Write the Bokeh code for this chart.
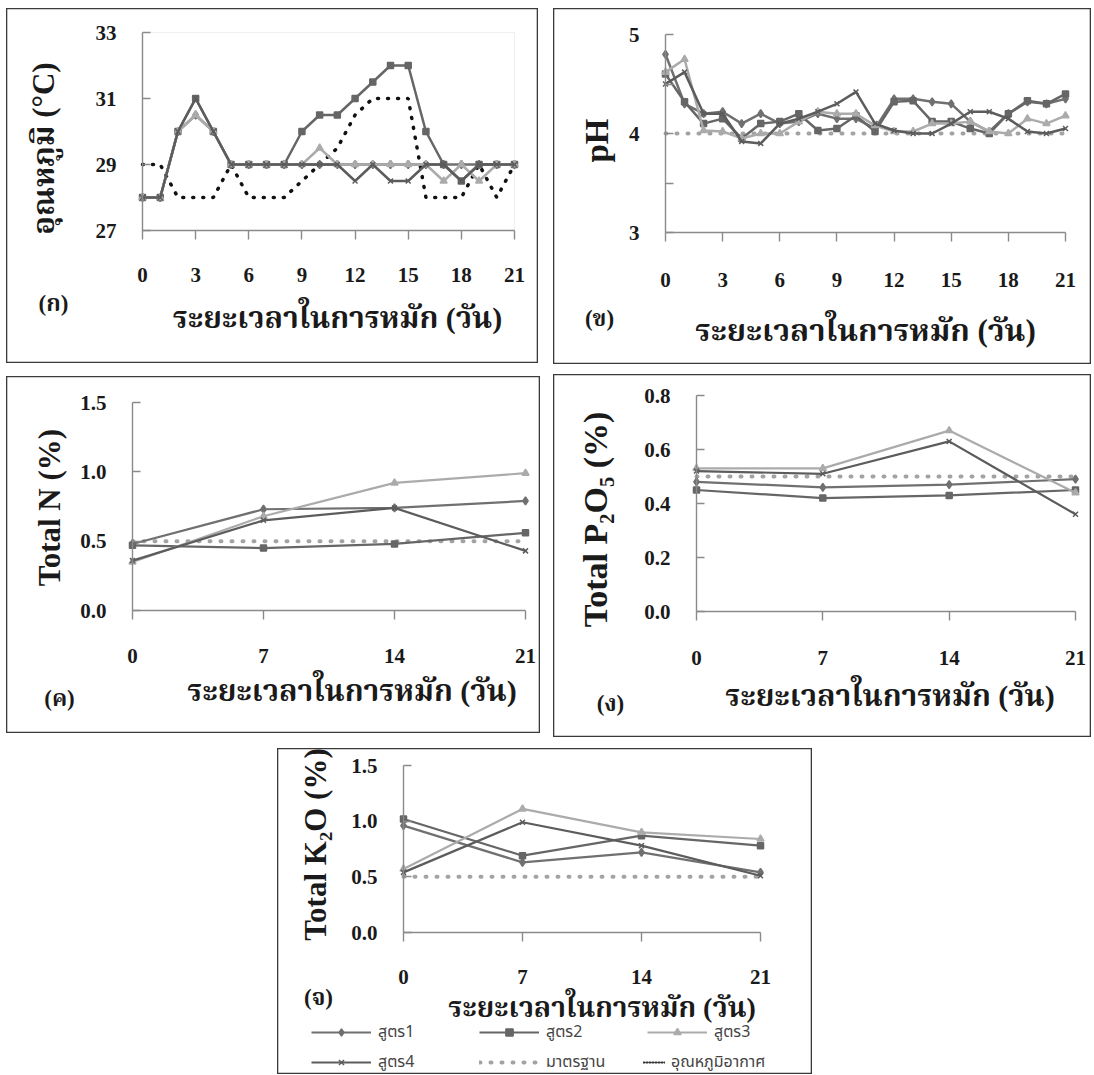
import math
from bokeh.plotting import figure
from bokeh.models import (Range1d, FixedTicker, Label, Legend, LegendItem, Spacer,
                          LinearAxis, BoxAnnotation)
from bokeh.layouts import row, column
from bokeh.embed import file_html
from bokeh.resources import INLINE

# ---------------- data ----------------
days_daily = list(range(0, 22))
days_weekly = [0, 7, 14, 21]

temp_s1 = [28, 28, 30, 30.5, 30, 29, 29, 29, 29, 29, 29, 29, 29, 29, 29, 29, 29, 29, 29, 29, 29, 29]
temp_s2 = [28, 28, 30, 31, 30, 29, 29, 29, 29, 30, 30.5, 30.5, 31, 31.5, 32, 32, 30, 29, 28.5, 29, 29, 29]
temp_s3 = [28, 28, 30, 30.5, 30, 29, 29, 29, 29, 29, 29.5, 29, 29, 29, 29, 29, 29, 28.5, 29, 28.5, 29, 29]
temp_s4 = [28, 28, 30, 31, 30, 29, 29, 29, 29, 29, 29, 29, 28.5, 29, 28.5, 28.5, 29, 29, 28.5, 29, 29, 29]
temp_air = [29, 29, 28, 28, 28, 29, 28, 28, 28, 28.5, 29, 29.5, 30.5, 31, 31, 31, 28, 28, 28, 29, 28, 29]

ph_s1 = [4.80, 4.30, 4.20, 4.22, 4.10, 4.20, 4.10, 4.12, 4.20, 4.15, 4.15, 4.05, 4.35, 4.35, 4.32, 4.30, 4.12, 4.02, 4.20, 4.32, 4.30, 4.35]
ph_s2 = [4.60, 4.32, 4.10, 4.15, 3.95, 4.10, 4.12, 4.20, 4.03, 4.05, 4.18, 4.02, 4.32, 4.33, 4.12, 4.12, 4.05, 4.00, 4.20, 4.33, 4.30, 4.40]
ph_s3 = [4.62, 4.75, 4.03, 4.02, 3.95, 4.00, 4.00, 4.12, 4.22, 4.20, 4.20, 4.08, 4.02, 4.02, 4.10, 4.10, 4.12, 4.02, 4.00, 4.15, 4.10, 4.18]
ph_s4 = [4.50, 4.62, 4.20, 4.20, 3.92, 3.90, 4.10, 4.15, 4.22, 4.30, 4.42, 4.10, 4.03, 4.00, 4.00, 4.10, 4.22, 4.22, 4.15, 4.02, 4.00, 4.05]
ph_std = 4.0

n_s1 = [0.48, 0.73, 0.74, 0.79]
n_s2 = [0.47, 0.45, 0.48, 0.56]
n_s3 = [0.35, 0.68, 0.92, 0.99]
n_s4 = [0.36, 0.65, 0.74, 0.43]
n_std = 0.5

p_s1 = [0.48, 0.46, 0.47, 0.49]
p_s2 = [0.45, 0.42, 0.43, 0.45]
p_s3 = [0.53, 0.53, 0.67, 0.44]
p_s4 = [0.52, 0.51, 0.63, 0.36]
p_std = 0.5

k_s1 = [0.96, 0.63, 0.72, 0.54]
k_s2 = [1.02, 0.69, 0.87, 0.78]
k_s3 = [0.57, 1.11, 0.90, 0.84]
k_s4 = [0.54, 0.99, 0.78, 0.51]
k_std = 0.5

series_names = ["สูตร1", "สูตร2", "สูตร3", "สูตร4"]
std_name = "มาตรฐาน"
air_name = "อุณหภูมิอากาศ"
x_title = "ระยะเวลาในการหมัก (วัน)"

# ---------------- styles ----------------
SERIF = "'Liberation Serif', 'Noto Serif Thai', 'Norasi', 'Kinnari', 'Noto Sans Thai Looped', 'Loma', serif"
LEGF = "'Noto Sans', 'Noto Sans Thai', 'Loma', 'Garuda', sans-serif"
STY = [
    dict(color="#707070", marker="diamond", size=8),
    dict(color="#666666", marker="square", size=6),
    dict(color="#ababab", marker="triangle", size=7),
    dict(color="#5c5c5c", marker="x", size=7),
]
AXC = "#8a8a8a"
TXT = "#1a1a1a"


def make_panel(w, h, fx, fy, xd, yd, xticks, yticks, ylabels, tick_standoff,
               tag, tag_off, xlab_off, xlab_size, ylab, ylab_off, ylab_size, plot_box=False):
    # frame == whole canvas; data box [xd]x[yd] placed at pixel box fx (left,right), fy (top,bottom)
    sx = (fx[1] - fx[0]) / (xd[1] - xd[0])
    sy = (fy[1] - fy[0]) / (yd[1] - yd[0])
    xr = Range1d(xd[0] - fx[0] / sx, xd[1] + (w - fx[1]) / sx)
    yr = Range1d(yd[0] - (h - fy[1]) / sy, yd[1] + fy[0] / sy)
    p = figure(width=w, height=h, x_range=xr, y_range=yr, min_border=0,
               output_backend="svg", toolbar_location=None, x_axis_type=None, y_axis_type=None)
    p.grid.visible = False
    p.outline_line_color = "#3a3a3a"
    p.outline_line_width = 1.6
    p.background_fill_color = "white"
    p.border_fill_color = "white"

    if plot_box:
        p.add_layout(BoxAnnotation(left=xd[0], right=xd[1], bottom=yd[0], top=yd[1],
                                   fill_alpha=0, line_color="#cdcdcd", line_width=1.2,
                                   level="underlay"))

    xa = LinearAxis(fixed_location=yd[0], bounds=xd, ticker=FixedTicker(ticks=xticks))
    xa.major_label_overrides = {t: str(t) for t in xticks}
    xa.axis_line_color = AXC
    xa.axis_line_width = 1.4
    xa.major_tick_line_color = AXC
    xa.major_tick_line_width = 1.4
    xa.major_tick_out = 9
    xa.major_tick_in = 0
    xa.minor_tick_line_color = None
    xa.major_label_standoff = tick_standoff
    xa.major_label_text_font = SERIF
    xa.major_label_text_font_style = "bold"
    xa.major_label_text_font_size = "21px"
    xa.major_label_text_color = TXT
    p.add_layout(xa, "below")

    ya = LinearAxis(fixed_location=xd[0], bounds=yd, ticker=FixedTicker(ticks=yticks))
    ya.major_label_overrides = dict(zip(yticks, ylabels))
    ya.axis_line_color = AXC
    ya.axis_line_width = 1.4
    ya.major_tick_line_color = AXC
    ya.major_tick_line_width = 1.4
    ya.major_tick_out = 0
    ya.major_tick_in = 8
    ya.minor_tick_line_color = None
    ya.major_label_standoff = 26
    ya.major_label_text_font = SERIF
    ya.major_label_text_font_style = "bold"
    ya.major_label_text_font_size = "21px"
    ya.major_label_text_color = TXT
    p.add_layout(ya, "left")

    xmid = (xd[0] + xd[1]) / 2
    p.add_layout(Label(x=xd[0], y=yd[0], x_offset=tag_off[0], y_offset=tag_off[1], text=tag,
                       text_font=SERIF, text_font_style="bold", text_font_size="23px",
                       text_align="center", text_baseline="middle", text_color=TXT))
    p.add_layout(Label(x=xmid, y=yd[0], x_offset=xlab_off[0], y_offset=xlab_off[1], text=x_title,
                       text_font=SERIF, text_font_style="bold", text_font_size=xlab_size,
                       text_align="center", text_baseline="middle", text_color=TXT))
    p.add_layout(Label(x=xd[0], y=yd[0], x_offset=ylab_off[0], y_offset=ylab_off[1], text=ylab,
                       angle=math.pi / 2, text_font=SERIF, text_font_style="bold",
                       text_font_size=ylab_size, text_align="center", text_baseline="middle",
                       text_color=TXT))
    return p


def add_series(p, x, ys, lw=2.5):
    rs = []
    for y, st, name in zip(ys, STY, series_names):
        ln = p.line(x, y, line_color=st["color"], line_width=lw)
        mk = p.scatter(x, y, marker=st["marker"], size=st["size"], fill_color=st["color"],
                       line_color=st["color"], line_width=1.5)
        rs.append((name, [ln, mk]))
    return rs


def add_std(p, x, v):
    return p.line(x, [v] * len(x), line_color="#a3a3a3", line_width=4, line_dash="1 10",
                  line_cap="round")


# ---------------- panel ก : temperature ----------------
p1 = make_panel(532, 355, (136, 508), (24, 222), (0, 21), (27, 33),
                list(range(0, 22, 3)), [27, 29, 31, 33], ["27", "29", "31", "33"], 28,
                "(ก)", (-89, -73), (9, -87), "30px", "อุณหภูมิ (°C)", (-99, 82), "31px",
                plot_box=True)
p1.line(days_daily, temp_air, line_color="#111111", line_width=3.5, line_dash="1 9", line_cap="round")
add_series(p1, days_daily, [temp_s1, temp_s2, temp_s3, temp_s4])

# ---------------- panel ข : pH ----------------
p2 = make_panel(538, 356, (112, 512), (26, 224), (0, 21), (3, 5),
                list(range(0, 22, 3)), [3, 3.5, 4, 4.5, 5], ["3", "", "4", "", "5"], 31,
                "(ข)", (-66, -86), (0, -98), "31px", "pH", (-69, 92), "33px")
add_std(p2, days_daily, ph_std)
add_series(p2, days_daily, [ph_s1, ph_s2, ph_s3, ph_s4])

# ---------------- panel ค : Total N ----------------
p3 = make_panel(534, 357, (126, 519), (26, 234), (0, 21), (0, 1.5),
                days_weekly, [0, 0.5, 1.0, 1.5], ["0.0", "0.5", "1.0", "1.5"], 29,
                "(ค)", (-73, -88), (23, -80), "30px", "Total N (%)", (-83, 103), "31px")
add_std(p3, days_weekly, n_std)
add_series(p3, days_weekly, [n_s1, n_s2, n_s3, n_s4], lw=2.2)

# ---------------- panel ง : Total P2O5 ----------------
p4 = make_panel(538, 363, (143, 522), (21, 237), (0, 21), (0, 0.8),
                days_weekly, [0, 0.2, 0.4, 0.6, 0.8], ["0.0", "0.2", "0.4", "0.6", "0.8"], 30,
                "(ง)", (-86, -92), (4, -84), "30px", "Total P₂O₅ (%)", (-101, 92), "34px")
add_std(p4, days_weekly, p_std)
add_series(p4, days_weekly, [p_s1, p_s2, p_s3, p_s4], lw=2.2)

# ---------------- panel จ : Total K2O ----------------
p5 = make_panel(535, 326, (126, 483), (17, 184), (0, 21), (0, 1.5),
                days_weekly, [0, 0.5, 1.0, 1.5], ["0.0", "0.5", "1.0", "1.5"], 28,
                "(จ)", (-85, -65), (20, -75), "28px", "Total K₂O (%)", (-88, 88), "31px")
std5 = add_std(p5, days_weekly, k_std)
rs5 = add_series(p5, days_weekly, [k_s1, k_s2, k_s3, k_s4], lw=2.2)
air5 = p5.line([0], [float("nan")], line_color="#333333", line_width=2, line_dash="1 2",
               line_cap="round")

items = [LegendItem(label=n, renderers=r) for n, r in rs5]
items.append(LegendItem(label=std_name, renderers=[std5]))
legend = Legend(items=items, location=(34, 0), ncols=3, orientation="horizontal",
                glyph_width=60, glyph_height=18, label_height=18, label_width=95,
                label_standoff=7, spacing=6, padding=0, margin=0,
                label_text_font=LEGF, label_text_font_size="16px",
                label_text_color="#444444", border_line_color=None,
                background_fill_alpha=0)
p5.add_layout(legend)
legend_air = Legend(items=[LegendItem(label=air_name, renderers=[air5])], location=(366, 0),
                    glyph_width=22, glyph_height=18, label_height=18, label_standoff=6,
                    padding=0, margin=0, label_text_font=LEGF, label_text_font_size="16px",
                    label_text_color="#444444", border_line_color=None,
                    background_fill_alpha=0)
p5.add_layout(legend_air)

# ---------------- layout ----------------
left_col = column(p1, Spacer(width=1, height=13), p3)
right_col = column(p2, Spacer(width=1, height=10), p4)
top = row(Spacer(width=6, height=1), left_col, Spacer(width=13, height=1), right_col)
bottom = row(Spacer(width=277, height=1), p5)
page = column(Spacer(width=1, height=8), top, Spacer(width=1, height=11), bottom)

open("out.html", "w").write(file_html(page, INLINE))
